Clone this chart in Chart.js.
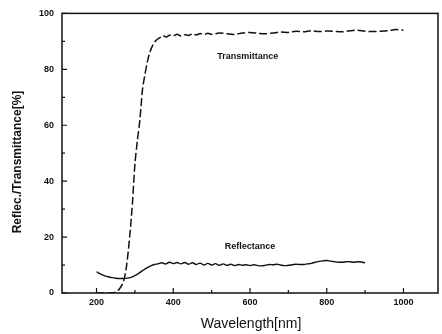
<!DOCTYPE html>
<html><head><meta charset="utf-8">
<script src="https://cdn.jsdelivr.net/npm/chart.js@4.4.1/dist/chart.umd.min.js"></script>
<style>html,body{margin:0;padding:0;background:#fff}#wrap{width:442px;height:334px}</style>
</head><body><div id="wrap"><canvas id="c" width="442" height="334"></canvas></div>
<script>
const transWavelength = [200,210,220,230,240,250,260,270,278,287,294,300,306,313,320,326,333,340,348,356,365,373,382,390,400,410,420,430,440,450,460,470,480,490,500,520,540,560,580,600,620,640,660,680,700,720,740,760,780,800,820,840,860,880,900,920,940,960,980,1000];
const transValues = [0,0,0,0,0.1,0.3,1.5,4,9.5,21,33,46,54,62,73,78,83,86.5,89,90.5,91.3,92,91.6,92.2,92.0,92.5,91.9,92.4,92.1,92.7,92.3,92.8,92.4,92.9,92.5,93.0,92.7,92.5,93.0,93.2,92.9,92.7,93.0,93.3,93.2,93.6,93.4,93.8,93.5,93.7,93.6,93.4,93.8,94.0,93.6,93.5,93.6,93.8,94.2,94.0];
const reflWavelength = [200,210,220,230,240,250,260,270,280,290,300,310,320,330,340,350,360,370,380,390,400,410,420,430,440,450,460,470,480,490,500,510,520,530,540,550,560,570,580,590,600,610,620,630,640,650,660,670,680,690,700,710,720,730,740,750,760,770,780,790,800,810,820,830,840,850,860,870,880,890,900];
const reflValues = [7.6,6.8,6.2,5.8,5.5,5.3,5.2,5.2,5.3,5.6,6.2,7.0,8.0,8.9,9.6,10.2,10.4,10.8,10.4,11.0,10.5,10.9,10.4,10.9,10.3,10.8,10.2,10.7,10.0,10.6,10.0,10.5,9.9,10.4,9.9,10.3,9.8,10.2,9.9,10.1,9.8,10.1,9.8,9.7,9.9,10.2,10.1,10.3,10.0,9.8,9.9,10.1,10.3,10.2,10.2,10.4,10.6,11.0,11.3,11.5,11.6,11.4,11.2,11.0,11.0,11.2,11.2,11.0,11.2,11.1,10.8];
const xTicks = [200,400,600,800,1000];
const xMinorTicks = [300,500,700,900];
const yTicks = [0,20,40,60,80,100];
const yMinorTicks = [10,30,50,70,90];
const seriesLabels = ['Transmittance','Reflectance'];
const xTitle = 'Wavelength[nm]';
const yTitle = 'Reflec./Transmittance[%]';
const labelAnchors = [[594,84.5],[600,16.5]];

const ink = '#111';
const framePlugin = {
  id: 'frame',
  afterDraw(chart) {
    const ctx = chart.ctx, a = chart.chartArea;
    const xs = chart.scales.x, ys = chart.scales.y;
    ctx.save();
    ctx.strokeStyle = ink;
    ctx.lineWidth = 1.5;
    ctx.strokeRect(a.left, a.top, a.right - a.left, a.bottom - a.top);
    ctx.lineWidth = 1.2;
    ctx.beginPath();
    xTicks.forEach(v => { const p = xs.getPixelForValue(v); ctx.moveTo(p, a.bottom); ctx.lineTo(p, a.bottom - 5); });
    xMinorTicks.forEach(v => { const p = xs.getPixelForValue(v); ctx.moveTo(p, a.bottom); ctx.lineTo(p, a.bottom - 3); });
    yTicks.forEach(v => { const p = ys.getPixelForValue(v); ctx.moveTo(a.left, p); ctx.lineTo(a.left + 5, p); });
    yMinorTicks.forEach(v => { const p = ys.getPixelForValue(v); ctx.moveTo(a.left, p); ctx.lineTo(a.left + 3, p); });
    ctx.stroke();
    ctx.fillStyle = ink;
    ctx.font = 'bold 9px "Liberation Sans", Arial, sans-serif';
    ctx.textAlign = 'center';
    ctx.textBaseline = 'middle';
    seriesLabels.forEach((t, i) => {
      ctx.fillText(t, xs.getPixelForValue(labelAnchors[i][0]), ys.getPixelForValue(labelAnchors[i][1]));
    });
    ctx.font = '14px "Liberation Sans", Arial, sans-serif';
    ctx.fillText(xTitle, 251, 324);
    ctx.translate(18, 162);
    ctx.rotate(-Math.PI / 2);
    ctx.font = 'bold 12px "Liberation Sans", Arial, sans-serif';
    ctx.fillText(yTitle, 0, 0);
    ctx.restore();
  }
};

new Chart(document.getElementById('c'), {
  type: 'scatter',
  data: {
    datasets: [
      {
        label: seriesLabels[0],
        data: transWavelength.map((w, i) => ({x: w, y: transValues[i]})),
        showLine: true, borderColor: ink, borderWidth: 1.5, borderDash: [8, 3],
        pointRadius: 0, tension: 0.3, fill: false
      },
      {
        label: seriesLabels[1],
        data: reflWavelength.map((w, i) => ({x: w, y: reflValues[i]})),
        showLine: true, borderColor: ink, borderWidth: 1.4,
        pointRadius: 0, tension: 0.4, fill: false
      }
    ]
  },
  options: {
    responsive: false,
    animation: false,
    layout: {padding: {left: 0, right: 4, top: 10, bottom: 0}},
    plugins: {legend: {display: false}, tooltip: {enabled: false}},
    scales: {
      x: {
        type: 'linear', min: 110, max: 1090,
        afterFit(s) { s.height = 41; },
        afterBuildTicks(s) { s.ticks = xTicks.map(v => ({value: v})); },
        grid: {display: false, drawTicks: false},
        border: {display: false},
        ticks: {padding: 4, color: ink, maxRotation: 0, autoSkip: false,
          callback: v => String(v),
          font: {family: '"Liberation Sans", Arial, sans-serif', size: 9, weight: 'bold'}}
      },
      y: {
        type: 'linear', min: 0, max: 100,
        afterFit(s) { s.width = 62; },
        afterBuildTicks(s) { s.ticks = yTicks.map(v => ({value: v})); },
        grid: {display: false, drawTicks: false},
        border: {display: false},
        ticks: {padding: 8, color: ink, autoSkip: false,
          callback: v => String(v),
          font: {family: '"Liberation Sans", Arial, sans-serif', size: 9, weight: 'bold'}}
      }
    }
  },
  plugins: [framePlugin]
});
</script>
</body></html>
